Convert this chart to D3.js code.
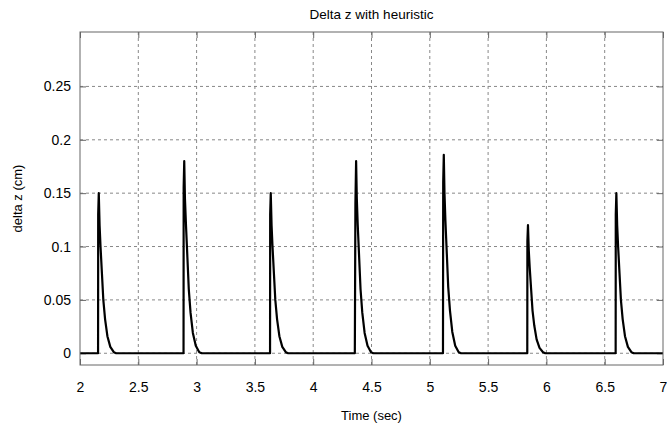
<!DOCTYPE html>
<html>
<head>
<meta charset="utf-8">
<script src="https://cdnjs.cloudflare.com/ajax/libs/d3/7.8.5/d3.min.js"></script>
<style>
  body { margin: 0; background: #fff; }
  svg text { font-family: "Liberation Sans", Arial, sans-serif; fill: #000; }
  .grid line { stroke: #888; stroke-dasharray: 3,3; stroke-width: 1; }
</style>
</head>
<body>
<div id="chart"></div>
<script>
// time (sec) samples
var timeSec = [
  2.000,
  2.155, 2.156, 2.161, 2.168, 2.176, 2.188, 2.200, 2.215, 2.235, 2.260, 2.290, 2.310,
  2.888, 2.889, 2.894, 2.900, 2.909, 2.921, 2.933, 2.948, 2.968, 2.993, 3.023, 3.045,
  3.630, 3.631, 3.636, 3.643, 3.651, 3.663, 3.675, 3.690, 3.710, 3.735, 3.765, 3.785,
  4.357, 4.362, 4.368, 4.374, 4.382, 4.394, 4.406, 4.421, 4.441, 4.466, 4.496, 4.516,
  5.113, 5.115, 5.120, 5.126, 5.134, 5.146, 5.158, 5.173, 5.193, 5.218, 5.248, 5.268,
  5.836, 5.837, 5.842, 5.849, 5.857, 5.869, 5.881, 5.896, 5.916, 5.941, 5.971, 5.991,
  6.594, 6.595, 6.600, 6.607, 6.615, 6.627, 6.639, 6.654, 6.674, 6.699, 6.729, 6.749,
  7.000
];
// delta z (cm) at those samples
var deltaZ = [
  0,
  0, 0.130, 0.150, 0.120, 0.100, 0.075, 0.050, 0.032, 0.016, 0.006, 0.001, 0,
  0, 0.155, 0.180, 0.145, 0.120, 0.090, 0.060, 0.038, 0.019, 0.007, 0.001, 0,
  0, 0.130, 0.150, 0.120, 0.100, 0.075, 0.050, 0.032, 0.016, 0.006, 0.001, 0,
  0, 0.140, 0.180, 0.145, 0.120, 0.090, 0.060, 0.038, 0.019, 0.007, 0.001, 0,
  0, 0.160, 0.186, 0.150, 0.124, 0.093, 0.062, 0.040, 0.020, 0.007, 0.001, 0,
  0, 0.105, 0.120, 0.096, 0.080, 0.060, 0.040, 0.026, 0.013, 0.005, 0.001, 0,
  0, 0.130, 0.150, 0.120, 0.100, 0.075, 0.050, 0.032, 0.016, 0.006, 0.001, 0,
  0
];
var xTicks = [2, 2.5, 3, 3.5, 4, 4.5, 5, 5.5, 6, 6.5, 7];
var yTicks = [0, 0.05, 0.1, 0.15, 0.2, 0.25];
var xDomain = [2, 7];
var yDomain = [-0.011, 0.301];

var W = 667, H = 426;
var margin = {top: 32, right: 4, bottom: 61, left: 80};
var width = W - margin.left - margin.right;
var height = H - margin.top - margin.bottom;

var svg = d3.select("#chart").append("svg")
  .attr("width", W).attr("height", H);

var g = svg.append("g")
  .attr("transform", "translate(" + margin.left + "," + margin.top + ")");

var x = d3.scaleLinear().domain(xDomain).range([0, width]);
var y = d3.scaleLinear().domain(yDomain).range([height, 0]);

// dashed grid
g.append("g").attr("class", "grid")
  .selectAll("line").data(xTicks.slice(1, -1)).enter().append("line")
  .attr("x1", function(d){ return x(d); }).attr("x2", function(d){ return x(d); })
  .attr("y1", 0).attr("y2", height);
g.append("g").attr("class", "grid")
  .selectAll("line").data(yTicks).enter().append("line")
  .attr("y1", function(d){ return y(d); }).attr("y2", function(d){ return y(d); })
  .attr("x1", 0).attr("x2", width);

// axes with inward ticks, no domain path (box drawn below)
var tickFmt = function(d){ return String(d); };
var xb = g.append("g").attr("transform", "translate(0," + height + ")")
  .call(d3.axisBottom(x).tickValues(xTicks).tickFormat(tickFmt).tickSizeInner(-6).tickSizeOuter(0).tickPadding(17));
var xt = g.append("g")
  .call(d3.axisTop(x).tickValues(xTicks).tickFormat("").tickSizeInner(-6).tickSizeOuter(0));
var yl = g.append("g")
  .call(d3.axisLeft(y).tickValues(yTicks).tickFormat(tickFmt).tickSizeInner(-6).tickSizeOuter(0).tickPadding(9));
var yr = g.append("g").attr("transform", "translate(" + width + ",0)")
  .call(d3.axisRight(y).tickValues(yTicks).tickFormat("").tickSizeInner(-6).tickSizeOuter(0));

[xb, xt, yl, yr].forEach(function(a){
  a.select(".domain").remove();
  a.selectAll(".tick line").attr("stroke", "#666");
  a.selectAll("text").style("font-size", "14px").attr("fill", "#000");
});

// the signal
var line = d3.line()
  .x(function(d, i){ return x(timeSec[i]); })
  .y(function(d){ return y(d); });
g.append("path")
  .datum(deltaZ)
  .attr("fill", "none")
  .attr("stroke", "#000")
  .attr("stroke-width", 2.2)
  .attr("stroke-linejoin", "round")
  .attr("d", line);

// box
g.append("rect")
  .attr("x", 0).attr("y", 0).attr("width", width).attr("height", height)
  .attr("fill", "none").attr("stroke", "#666").attr("stroke-width", 1);

// labels
svg.append("text")
  .attr("x", margin.left + width / 2).attr("y", 19)
  .attr("text-anchor", "middle").style("font-size", "13.5px")
  .text("Delta z with heuristic");
svg.append("text")
  .attr("x", margin.left + width / 2).attr("y", 420)
  .attr("text-anchor", "middle").style("font-size", "13px")
  .text("Time (sec)");
svg.append("text")
  .attr("transform", "translate(22," + (margin.top + height / 2) + ") rotate(-90)")
  .attr("text-anchor", "middle").style("font-size", "13px")
  .text("delta z (cm)");
</script>
</body>
</html>
